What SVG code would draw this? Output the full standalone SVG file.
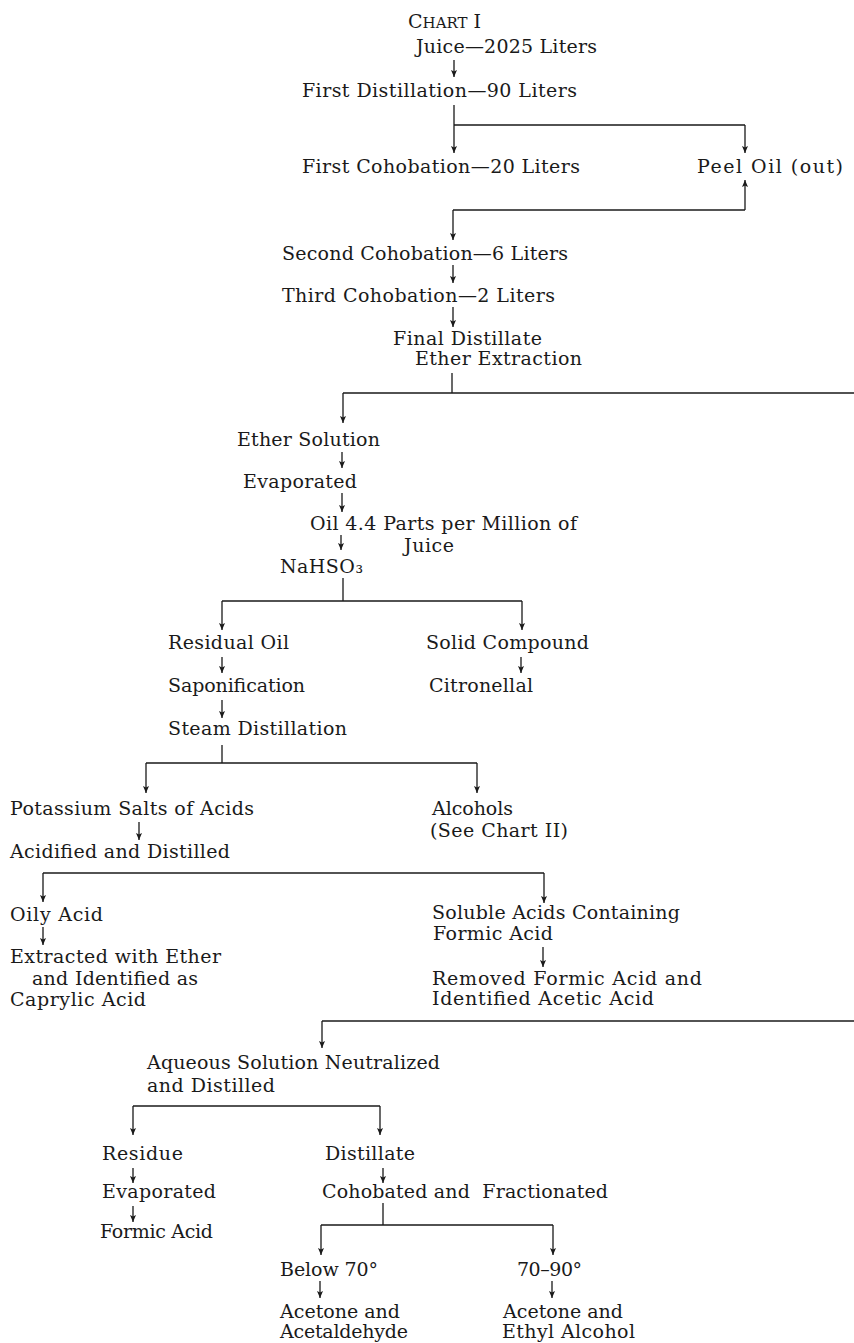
<svg xmlns="http://www.w3.org/2000/svg" width="854" height="1343" viewBox="0 0 854 1343">
<style>
.t{font-family:"DejaVu Serif","Liberation Serif",serif;font-size:19px;fill:#1a1a1a}
.c{stroke:#1a1a1a;stroke-width:1.3;fill:none}
.a{stroke:#1a1a1a;stroke-width:1.3;fill:none;marker-end:url(#ah)}
</style>
<defs>
<marker id="ah" markerUnits="userSpaceOnUse" markerWidth="10" markerHeight="10" refX="7" refY="3" orient="auto" overflow="visible">
<path d="M0,0 L7,3 L0,6 L1.5,3 Z" fill="#1a1a1a"/>
</marker>
</defs>
<rect width="854" height="1343" fill="#ffffff"/>
<g id="connectors">
<path class="a" d="M454,60 V77"/>
<path class="c" d="M454,105 V125 M454,125 H745"/>
<path class="a" d="M454,125 V153"/>
<path class="a" d="M745,125 V153"/>
<path class="a" d="M745,210 V180"/>
<path class="c" d="M453,210 H745"/>
<path class="a" d="M453,210 V240"/>
<path class="a" d="M453,265 V283"/>
<path class="a" d="M453,307 V327"/>
<path class="c" d="M452,373 V393 M343,393 H854"/>
<path class="a" d="M343,393 V423"/>
<path class="a" d="M342,452 V468"/>
<path class="a" d="M342,493 V512"/>
<path class="a" d="M341,535 V550"/>
<path class="c" d="M343,578 V601 M222,601 H522"/>
<path class="a" d="M222,601 V630"/>
<path class="a" d="M522,601 V630"/>
<path class="a" d="M222,657 V673"/>
<path class="a" d="M521,657 V673"/>
<path class="a" d="M222,700 V718"/>
<path class="c" d="M222,745 V763 M146,763 H477"/>
<path class="a" d="M146,763 V793"/>
<path class="a" d="M477,763 V793"/>
<path class="a" d="M139,822 V840"/>
<path class="c" d="M43,873 H544"/>
<path class="a" d="M43,873 V902"/>
<path class="a" d="M544,873 V903"/>
<path class="a" d="M43,927 V945"/>
<path class="a" d="M543,947 V967"/>
<path class="c" d="M322,1021 H854"/>
<path class="a" d="M322,1021 V1048"/>
<path class="c" d="M133,1106 H380"/>
<path class="a" d="M133,1106 V1135"/>
<path class="a" d="M380,1106 V1135"/>
<path class="a" d="M133,1168 V1183"/>
<path class="a" d="M133,1206 V1222"/>
<path class="a" d="M383,1168 V1183"/>
<path class="c" d="M383,1203 V1225 M321,1225 H553"/>
<path class="a" d="M321,1225 V1255"/>
<path class="a" d="M553,1225 V1255"/>
<path class="a" d="M320,1281 V1298"/>
<path class="a" d="M552,1281 V1298"/>
</g>
<g id="title"><text class="t" x="408" y="28">C<tspan font-size="15">HART</tspan> I</text></g>
<g id="juice"><text class="t" x="416" y="53" textLength="181" lengthAdjust="spacing">Juice—2025 Liters</text></g>
<g id="first-distillation"><text class="t" x="302" y="97" textLength="275" lengthAdjust="spacing">First Distillation—90 Liters</text></g>
<g id="first-cohobation"><text class="t" x="302" y="173" textLength="278" lengthAdjust="spacing">First Cohobation—20 Liters</text></g>
<g id="peel-oil"><text class="t" x="697" y="173" textLength="146" lengthAdjust="spacing">Peel Oil (out)</text></g>
<g id="second-cohobation"><text class="t" x="282" y="260" textLength="286" lengthAdjust="spacing">Second Cohobation—6 Liters</text></g>
<g id="third-cohobation"><text class="t" x="282" y="302" textLength="273" lengthAdjust="spacing">Third Cohobation—2 Liters</text></g>
<g id="final-distillate">
<text class="t" x="393" y="345" textLength="149" lengthAdjust="spacing">Final Distillate</text>
<text class="t" x="415" y="365" textLength="167" lengthAdjust="spacing">Ether Extraction</text>
</g>
<g id="ether-solution"><text class="t" x="237" y="446" textLength="143" lengthAdjust="spacing">Ether Solution</text></g>
<g id="evaporated-1"><text class="t" x="243" y="488" textLength="114" lengthAdjust="spacing">Evaporated</text></g>
<g id="oil">
<text class="t" x="310" y="530" textLength="267" lengthAdjust="spacing">Oil 4.4 Parts per Million of</text>
<text class="t" x="404" y="552" textLength="50" lengthAdjust="spacing">Juice</text>
</g>
<g id="nahso3"><text class="t" x="280" y="573" textLength="83" lengthAdjust="spacing">NaHSO₃</text></g>
<g id="residual-oil"><text class="t" x="168" y="649" textLength="121" lengthAdjust="spacing">Residual Oil</text></g>
<g id="solid-compound"><text class="t" x="426" y="649" textLength="163" lengthAdjust="spacing">Solid Compound</text></g>
<g id="saponification"><text class="t" x="168" y="692" textLength="137" lengthAdjust="spacing">Saponification</text></g>
<g id="citronellal"><text class="t" x="429" y="692" textLength="104" lengthAdjust="spacing">Citronellal</text></g>
<g id="steam-distillation"><text class="t" x="168" y="735" textLength="179" lengthAdjust="spacing">Steam Distillation</text></g>
<g id="potassium-salts"><text class="t" x="10" y="815" textLength="244" lengthAdjust="spacing">Potassium Salts of Acids</text></g>
<g id="alcohols">
<text class="t" x="432" y="815" textLength="81" lengthAdjust="spacing">Alcohols</text>
<text class="t" x="430" y="837" textLength="138" lengthAdjust="spacing">(See Chart II)</text>
</g>
<g id="acidified"><text class="t" x="10" y="858" textLength="220" lengthAdjust="spacing">Acidified and Distilled</text></g>
<g id="oily-acid"><text class="t" x="10" y="921" textLength="93" lengthAdjust="spacing">Oily Acid</text></g>
<g id="soluble-acids">
<text class="t" x="432" y="919" textLength="248" lengthAdjust="spacing">Soluble Acids Containing</text>
<text class="t" x="433" y="940" textLength="120" lengthAdjust="spacing">Formic Acid</text>
</g>
<g id="caprylic">
<text class="t" x="10" y="963" textLength="211" lengthAdjust="spacing">Extracted with Ether</text>
<text class="t" x="32" y="985" textLength="166" lengthAdjust="spacing">and Identified as</text>
<text class="t" x="10" y="1006" textLength="136" lengthAdjust="spacing">Caprylic Acid</text>
</g>
<g id="removed-formic">
<text class="t" x="432" y="985" textLength="270" lengthAdjust="spacing">Removed Formic Acid and</text>
<text class="t" x="432" y="1005" textLength="222" lengthAdjust="spacing">Identified Acetic Acid</text>
</g>
<g id="aqueous">
<text class="t" x="147" y="1069" textLength="293" lengthAdjust="spacing">Aqueous Solution Neutralized</text>
<text class="t" x="147" y="1092" textLength="128" lengthAdjust="spacing">and Distilled</text>
</g>
<g id="residue"><text class="t" x="102" y="1160" textLength="81" lengthAdjust="spacing">Residue</text></g>
<g id="evaporated-2"><text class="t" x="102" y="1198" textLength="114" lengthAdjust="spacing">Evaporated</text></g>
<g id="formic-acid"><text class="t" x="100" y="1238" textLength="113" lengthAdjust="spacing">Formic Acid</text></g>
<g id="distillate"><text class="t" x="325" y="1160" textLength="90" lengthAdjust="spacing">Distillate</text></g>
<g id="cohobated"><text class="t" x="322" y="1198" textLength="286" lengthAdjust="spacing" xml:space="preserve">Cohobated and  Fractionated</text></g>
<g id="below-70"><text class="t" x="280" y="1276" textLength="98" lengthAdjust="spacing">Below 70°</text></g>
<g id="range-70-90"><text class="t" x="517" y="1276" textLength="65" lengthAdjust="spacing">70–90°</text></g>
<g id="acetaldehyde">
<text class="t" x="280" y="1318" textLength="120" lengthAdjust="spacing">Acetone and</text>
<text class="t" x="280" y="1338" textLength="128" lengthAdjust="spacing">Acetaldehyde</text>
</g>
<g id="ethyl-alcohol">
<text class="t" x="503" y="1318" textLength="120" lengthAdjust="spacing">Acetone and</text>
<text class="t" x="502" y="1338" textLength="133" lengthAdjust="spacing">Ethyl Alcohol</text>
</g>
</svg>
